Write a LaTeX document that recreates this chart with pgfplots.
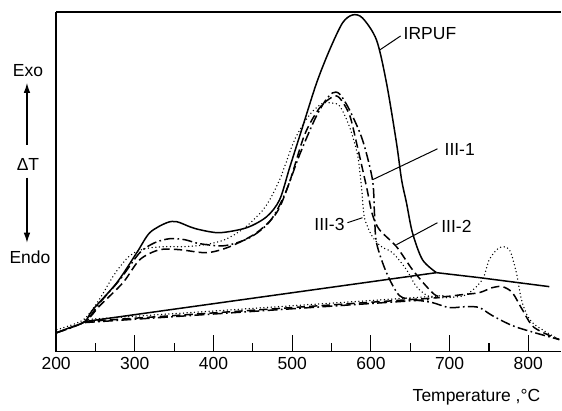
\documentclass[border=0pt]{standalone}
\usepackage{fontspec}
\setmainfont{Liberation Sans}
\usepackage{pgfplots}
\pgfplotsset{compat=1.18}
\usetikzlibrary{arrows.meta}

\begin{document}
\begin{tikzpicture}[font=\fontsize{10.5}{12}\selectfont]
\begin{axis}[
  scale only axis,
  width=303.5pt, height=204pt,
  xmin=200, xmax=842, ymin=0, ymax=340,
  axis x line*=box, axis y line*=left,
  xtick={200,300,...,800},
  minor xtick={250,350,...,750},
  xtick pos=bottom,
  tick align=inside,
  major tick length=10pt, minor tick length=5pt,
  ytick=\empty,
  /pgf/number format/assume math mode=true,
  ticklabel style={font=\fontsize{10.5}{12}\selectfont},
  axis line style={line width=0.8pt},
  tick style={line width=0.7pt, black},
  clip=false,
  cycle list={{black, mark=none, solid}},
  every axis plot/.append style={line width=0.9pt, black, mark=none},
]
% IRPUF
\addplot[black, smooth, tension=0.5] coordinates {
(201,19) (217.5,24) (236.5,30) (246.7,42) (277.2,69) (302.5,99) (319,119)
(340.6,129) (353.3,130) (369.8,125) (382.5,122) (407.9,119) (442.1,124)
(467.5,135) (484,152) (496.7,184) (513.2,225) (531,269) (547.5,302)
(563.9,329) (576.6,337) (589.3,334) (607.1,312) (619.8,269) (632.5,209)
(639,172) (645.2,149) (652.8,119) (665.5,92) (683.3,79)};
\addplot[black] coordinates {(683.3,79) (737.8,74) (826.7,65)};
\addplot[black] coordinates {(236.5,30) (683.3,79)};
% III-1 dash-dot
\addplot[black, smooth, tension=0.5, dash pattern=on 6pt off 2pt on 1pt off 2pt] coordinates {
(201,19) (236.5,30) (255.6,49) (281,72) (306.3,99) (325.4,109) (344.4,113)
(363.4,112) (382.5,108) (414.2,106) (445.9,114) (471.3,130) (490.3,157)
(509.4,197) (528.4,232) (541.1,250) (551.3,259) (560.1,258) (572.8,242)
(589.3,212) (602,172) (604.5,139) (607.1,109) (619.8,79) (636.3,56)
(655.3,52) (678.2,49) (699.8,44) (721.3,45) (737.8,44) (754.3,36)
(779.7,26) (807.6,19) (839.4,12)};
\addplot[black, dash pattern=on 6pt off 2pt on 1pt off 2pt] coordinates {(236.5,29) (674,52)};
% III-2 dashed
\addplot[black, smooth, tension=0.5, dash pattern=on 5pt off 2.5pt] coordinates {
(201,19) (236.5,30) (255.6,46) (285,69) (306.3,92) (331.7,102) (357.1,102)
(391.4,99) (420.6,105) (454.8,119) (480.2,139) (496.7,170) (515.7,217)
(534.8,244) (551.3,255) (560.1,254) (572.8,237) (581.7,209) (594.4,165)
(602,137) (610.9,122) (632.5,105) (652.8,82) (674.4,62) (687.1,55)
(716.3,57) (737.8,59) (754.3,64) (767,65) (779.7,59) (792.4,42)
(807.6,24) (839.4,12)};
\addplot[black, dash pattern=on 5pt off 2.5pt] coordinates {(236.5,30) (687,54)};
% III-3 dotted
\addplot[black, smooth, tension=0.5, line cap=round, dash pattern=on 0pt off 2.2pt] coordinates {
(201,22) (217.5,26) (236.5,33) (255.6,53) (274.6,78) (293.7,96) (312.7,103)
(338.1,105) (363.4,105) (388.8,107) (414.2,112) (439.6,124) (465,144)
(484,172) (503,212) (522.1,237) (537.3,248) (547.5,249) (560.1,246)
(572.8,225) (583,197) (588,165) (591.8,134) (602,115) (613.4,105)
(627.4,99) (645.2,82) (657.9,65) (674.4,55) (696,54) (721.3,57)
(741.6,72) (750.5,92) (763.2,104) (775.9,102) (784.8,79) (792.4,49)
(805.1,29) (839.4,12)};
\addplot[black, line cap=round, dash pattern=on 0pt off 2.2pt] coordinates {(236.5,32) (693,56)};

% labels
\draw[line width=0.6pt] (axis cs:611.3,302) -- (axis cs:637.8,316);
\node[anchor=west, inner sep=1pt] at (axis cs:639.2,318) {IRPUF};
\draw[line width=0.6pt] (axis cs:602,172) -- (axis cs:684.6,203);
\node[anchor=west, inner sep=1pt] at (axis cs:691.2,202) {III-1};
\draw[line width=0.6pt] (axis cs:570.2,129) -- (axis cs:589.3,134);
\node[anchor=east, inner sep=1pt] at (axis cs:569,127) {III-3};
\draw[line width=0.6pt] (axis cs:632.5,107) -- (axis cs:684.6,129);
\node[anchor=west, inner sep=1pt] at (axis cs:687,125) {III-2};

\node at (rel axis cs:-0.0558,0.8265) {Exo};
\node at (rel axis cs:-0.0558,0.55) {ΔT};
\node at (rel axis cs:-0.0518,0.2765) {Endo};
\draw[line width=0.7pt, -{Latex[length=6pt,width=4pt]}] (rel axis cs:-0.0577,0.609) -- (rel axis cs:-0.0577,0.791);
\draw[line width=0.7pt, -{Latex[length=6pt,width=4pt]}] (rel axis cs:-0.0577,0.512) -- (rel axis cs:-0.0577,0.3206);
\node at (rel axis cs:0.832,-0.135) {Temperature ,°C};

\path (rel axis cs:-0.1111,-0.1647) (rel axis cs:1,1.0353);
\end{axis}
\end{tikzpicture}
\end{document}
